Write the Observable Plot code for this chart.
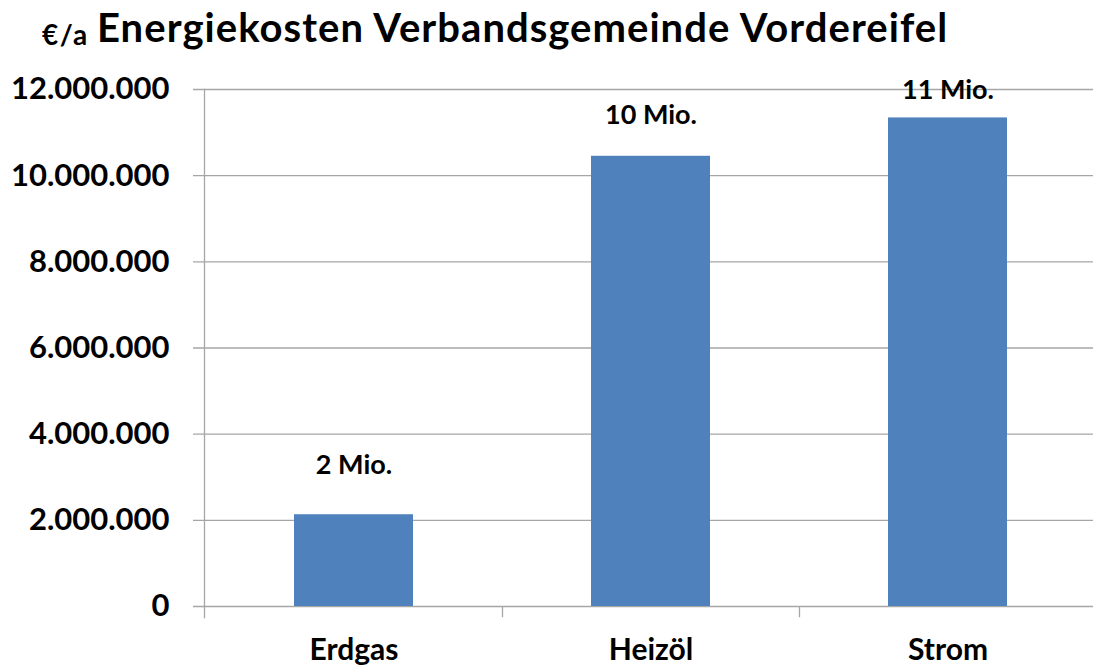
<!DOCTYPE html>
<html>
<head>
<meta charset="utf-8">
<script src="https://cdn.jsdelivr.net/npm/d3@7"></script>
<script src="https://cdn.jsdelivr.net/npm/@observablehq/plot@0.6"></script>
<style>
  html, body { margin: 0; padding: 0; background: #fff; }
  body { width: 1093px; height: 666px; overflow: hidden; font-family: Lato, "Open Sans", sans-serif; }
  #title { position: relative; height: 60px; white-space: nowrap; }
  #title .unit { position: absolute; left: 42px; top: 17px; font-size: 28px; font-weight: 700; color: #000; letter-spacing: 1.5px; }
  #title .main { position: absolute; left: 97px; top: 3px; font-size: 40px; font-weight: 700; color: #000; letter-spacing: 1.05px; }
  #chart svg { display: block; }
</style>
</head>
<body>
<div id="title"><span class="unit">€/a</span><span class="main">Energiekosten Verbandsgemeinde Vordereifel</span></div>
<div id="chart"></div>
<script>
const categories = ["Erdgas", "Heizöl", "Strom"];
const costs = [2130000, 10450000, 11340000];
const valueLabels = ["2 Mio.", "10 Mio.", "11 Mio."];
const yTicks = [0, 2000000, 4000000, 6000000, 8000000, 10000000, 12000000];

const data = categories.map((c, i) => ({cat: c, value: costs[i], label: valueLabels[i]}));
const de = d3.formatLocale({decimal: ",", thousands: ".", grouping: [3], currency: ["", " €"]});
const fmt = de.format(",");

const gridColor = "#a6a6a6";
const barColor = "#4f81bd";

function labelMark(cat, dy) {
  return Plot.text(data.filter(d => d.cat === cat), {
    x: "cat", y: "value", text: "label", dy,
    fontSize: 27, fontWeight: 700, fill: "#000", fontFamily: "Lato"
  });
}

const chart = Plot.plot({
  width: 1093,
  height: 606,
  marginTop: 29,
  marginBottom: 60,
  marginLeft: 204,
  marginRight: 0,
  style: {fontFamily: "Lato", background: "#fff"},
  x: {domain: categories, range: [205, 1096], paddingInner: 0.6, paddingOuter: 0.3, align: 0.5, label: null},
  y: {domain: [0, 12000000], label: null},
  marks: [
    Plot.ruleY(yTicks, {stroke: gridColor, strokeWidth: 1.3, insetLeft: -11}),
    Plot.barY(data, {x: "cat", y: "value", fill: barColor}),
    Plot.frame({anchor: "left", stroke: gridColor, strokeWidth: 1.3, strokeOpacity: 1, insetBottom: -11}),
    Plot.ruleX(categories.slice(0, 2), {x: d => d, dx: 148.5, y1: 0, y2: -260000, stroke: gridColor, strokeWidth: 1.3}),
    Plot.axisY(yTicks, {tickSize: 0, tickPadding: 35, tickFormat: fmt, fontSize: 31, fontWeight: 700, fill: "#000", label: null}),
    Plot.axisX({tickSize: 0, tickPadding: 32, fontSize: 30, fontWeight: 700, fill: "#000", label: null, style: {letterSpacing: "0.5px"}}),
    labelMark("Erdgas", -49),
    labelMark("Heizöl", -41),
    labelMark("Strom", -28)
  ]
});
document.getElementById("chart").appendChild(chart);
</script>
</body>
</html>
